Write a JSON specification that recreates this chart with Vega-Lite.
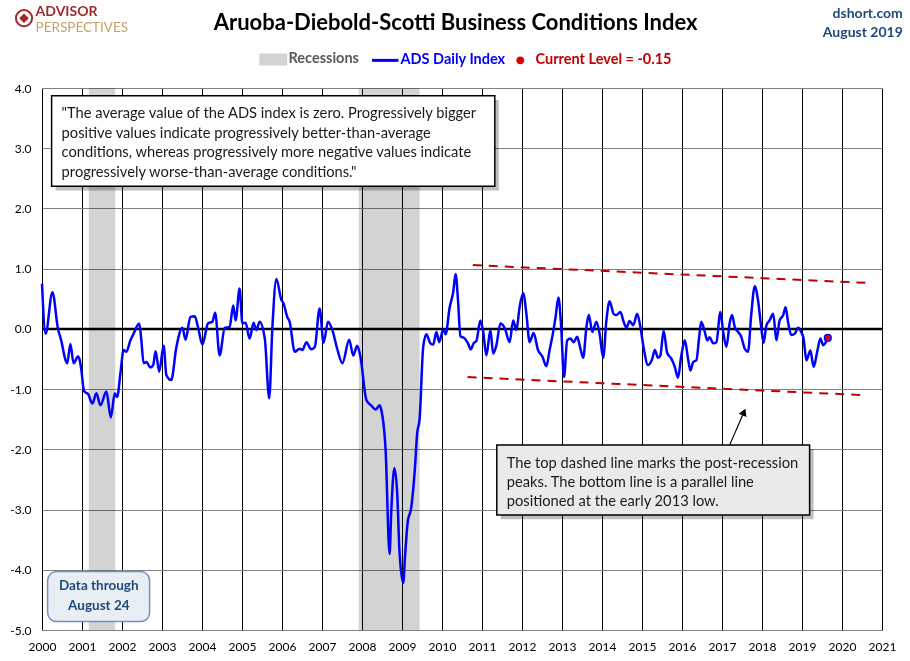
{
  "$schema": "https://vega.github.io/schema/vega-lite/v6.json",
  "width": 840,
  "height": 542,
  "autosize": {"type": "none"},
  "padding": {"left": 42, "top": 88, "right": 28, "bottom": 31},
  "background": "white",
  "config": {"view": {"stroke": null}, "font": "Lato"},
  "datasets": {
    "rec": [
      {"start": 2001.17, "end": 2001.83},
      {"start": 2007.92, "end": 2009.44}
    ],
    "trend": [
      {"x1": 2010.77, "y1": 1.06, "x2": 2020.74, "y2": 0.76},
      {"x1": 2010.64, "y1": -0.8, "x2": 2020.52, "y2": -1.1}
    ],
    "current": [{"year": 2019.645, "ads": -0.15}],
    "one": [{}],
    "ads": [
      {"year": 2000.0, "ads": 0.75}, {"year": 2000.09, "ads": -0.08}, {"year": 2000.26, "ads": 0.61},
      {"year": 2000.4, "ads": 0.0}, {"year": 2000.48, "ads": -0.19}, {"year": 2000.59, "ads": -0.52},
      {"year": 2000.63, "ads": -0.57}, {"year": 2000.71, "ads": -0.25}, {"year": 2000.79, "ads": -0.57},
      {"year": 2000.9, "ads": -0.46}, {"year": 2000.94, "ads": -0.51}, {"year": 2000.98, "ads": -0.66},
      {"year": 2001.05, "ads": -1.03}, {"year": 2001.1, "ads": -1.06}, {"year": 2001.15, "ads": -1.08},
      {"year": 2001.26, "ads": -1.24}, {"year": 2001.36, "ads": -1.07}, {"year": 2001.46, "ads": -1.27},
      {"year": 2001.61, "ads": -1.04}, {"year": 2001.72, "ads": -1.47}, {"year": 2001.82, "ads": -1.07},
      {"year": 2001.88, "ads": -1.13}, {"year": 2001.96, "ads": -0.74}, {"year": 2002.04, "ads": -0.35},
      {"year": 2002.11, "ads": -0.38}, {"year": 2002.21, "ads": -0.19}, {"year": 2002.29, "ads": -0.08},
      {"year": 2002.43, "ads": 0.09}, {"year": 2002.48, "ads": -0.16}, {"year": 2002.54, "ads": -0.57},
      {"year": 2002.61, "ads": -0.55}, {"year": 2002.71, "ads": -0.64}, {"year": 2002.78, "ads": -0.6},
      {"year": 2002.84, "ads": -0.37}, {"year": 2002.93, "ads": -0.71}, {"year": 2003.04, "ads": -0.28},
      {"year": 2003.11, "ads": -0.77}, {"year": 2003.23, "ads": -0.85}, {"year": 2003.36, "ads": -0.3},
      {"year": 2003.51, "ads": 0.02}, {"year": 2003.59, "ads": -0.18}, {"year": 2003.71, "ads": 0.2},
      {"year": 2003.82, "ads": 0.21}, {"year": 2003.9, "ads": 0.03}, {"year": 2004.01, "ads": -0.26},
      {"year": 2004.15, "ads": 0.09}, {"year": 2004.26, "ads": 0.12}, {"year": 2004.33, "ads": 0.27},
      {"year": 2004.44, "ads": -0.44}, {"year": 2004.57, "ads": 0.02}, {"year": 2004.69, "ads": 0.03},
      {"year": 2004.78, "ads": 0.39}, {"year": 2004.84, "ads": 0.14}, {"year": 2004.94, "ads": 0.67},
      {"year": 2005.01, "ads": 0.09}, {"year": 2005.09, "ads": 0.1}, {"year": 2005.19, "ads": -0.16},
      {"year": 2005.29, "ads": 0.1}, {"year": 2005.36, "ads": -0.02}, {"year": 2005.44, "ads": 0.12},
      {"year": 2005.57, "ads": -0.16}, {"year": 2005.68, "ads": -1.15}, {"year": 2005.76, "ads": 0.03},
      {"year": 2005.86, "ads": 0.83}, {"year": 2005.98, "ads": 0.49}, {"year": 2006.04, "ads": 0.42},
      {"year": 2006.13, "ads": 0.2}, {"year": 2006.19, "ads": 0.12}, {"year": 2006.32, "ads": -0.38},
      {"year": 2006.44, "ads": -0.33}, {"year": 2006.51, "ads": -0.35}, {"year": 2006.61, "ads": -0.22},
      {"year": 2006.73, "ads": -0.34}, {"year": 2006.82, "ads": -0.3}, {"year": 2006.94, "ads": 0.34},
      {"year": 2007.04, "ads": -0.23}, {"year": 2007.15, "ads": 0.12}, {"year": 2007.26, "ads": -0.02},
      {"year": 2007.38, "ads": -0.33}, {"year": 2007.51, "ads": -0.57}, {"year": 2007.68, "ads": -0.18},
      {"year": 2007.78, "ads": -0.44}, {"year": 2007.88, "ads": -0.28}, {"year": 2007.96, "ads": -0.46},
      {"year": 2008.11, "ads": -1.18}, {"year": 2008.23, "ads": -1.27}, {"year": 2008.34, "ads": -1.34},
      {"year": 2008.44, "ads": -1.27}, {"year": 2008.48, "ads": -1.34}, {"year": 2008.59, "ads": -2.01},
      {"year": 2008.69, "ads": -3.74}, {"year": 2008.73, "ads": -3.06}, {"year": 2008.81, "ads": -2.31},
      {"year": 2008.88, "ads": -2.73}, {"year": 2008.94, "ads": -3.73}, {"year": 2009.03, "ads": -4.22},
      {"year": 2009.08, "ads": -3.73}, {"year": 2009.15, "ads": -3.17}, {"year": 2009.22, "ads": -3.01},
      {"year": 2009.32, "ads": -2.34}, {"year": 2009.38, "ads": -1.73}, {"year": 2009.44, "ads": -1.5},
      {"year": 2009.53, "ads": -0.3}, {"year": 2009.61, "ads": -0.09}, {"year": 2009.71, "ads": -0.24},
      {"year": 2009.78, "ads": -0.26}, {"year": 2009.86, "ads": -0.05}, {"year": 2009.93, "ads": -0.22},
      {"year": 2010.03, "ads": -0.01}, {"year": 2010.09, "ads": -0.09}, {"year": 2010.19, "ads": 0.35},
      {"year": 2010.28, "ads": 0.61}, {"year": 2010.34, "ads": 0.91}, {"year": 2010.4, "ads": 0.48},
      {"year": 2010.46, "ads": -0.12}, {"year": 2010.57, "ads": -0.16}, {"year": 2010.65, "ads": -0.24},
      {"year": 2010.72, "ads": -0.34}, {"year": 2010.79, "ads": -0.24}, {"year": 2010.86, "ads": -0.2},
      {"year": 2010.96, "ads": 0.14}, {"year": 2011.03, "ads": -0.05}, {"year": 2011.11, "ads": -0.44},
      {"year": 2011.21, "ads": -0.02}, {"year": 2011.28, "ads": -0.41}, {"year": 2011.36, "ads": -0.27},
      {"year": 2011.46, "ads": 0.09}, {"year": 2011.57, "ads": 0.01}, {"year": 2011.69, "ads": -0.22},
      {"year": 2011.78, "ads": 0.14}, {"year": 2011.86, "ads": -0.02}, {"year": 2011.94, "ads": 0.36},
      {"year": 2012.03, "ads": 0.59}, {"year": 2012.11, "ads": 0.25}, {"year": 2012.19, "ads": -0.22},
      {"year": 2012.29, "ads": -0.07}, {"year": 2012.4, "ads": -0.35}, {"year": 2012.51, "ads": -0.46},
      {"year": 2012.61, "ads": -0.62}, {"year": 2012.69, "ads": -0.35}, {"year": 2012.78, "ads": -0.05},
      {"year": 2012.84, "ads": 0.2}, {"year": 2012.91, "ads": 0.52}, {"year": 2012.98, "ads": 0.03},
      {"year": 2013.05, "ads": -0.8}, {"year": 2013.13, "ads": -0.19}, {"year": 2013.21, "ads": -0.16},
      {"year": 2013.29, "ads": -0.22}, {"year": 2013.38, "ads": -0.13}, {"year": 2013.44, "ads": -0.27},
      {"year": 2013.53, "ads": -0.48}, {"year": 2013.61, "ads": 0.03}, {"year": 2013.67, "ads": 0.23},
      {"year": 2013.76, "ads": -0.05}, {"year": 2013.86, "ads": 0.12}, {"year": 2013.94, "ads": -0.08},
      {"year": 2014.03, "ads": -0.48}, {"year": 2014.11, "ads": 0.14}, {"year": 2014.19, "ads": 0.46},
      {"year": 2014.29, "ads": 0.25}, {"year": 2014.36, "ads": 0.23}, {"year": 2014.46, "ads": 0.28},
      {"year": 2014.54, "ads": 0.12}, {"year": 2014.61, "ads": 0.02}, {"year": 2014.69, "ads": 0.13},
      {"year": 2014.78, "ads": 0.06}, {"year": 2014.88, "ads": 0.25}, {"year": 2014.96, "ads": 0.03},
      {"year": 2015.04, "ads": -0.31}, {"year": 2015.15, "ads": -0.6}, {"year": 2015.26, "ads": -0.49},
      {"year": 2015.32, "ads": -0.35}, {"year": 2015.4, "ads": -0.48}, {"year": 2015.46, "ads": -0.44},
      {"year": 2015.54, "ads": -0.03}, {"year": 2015.63, "ads": -0.4}, {"year": 2015.73, "ads": -0.49},
      {"year": 2015.82, "ads": -0.63}, {"year": 2015.9, "ads": -0.81}, {"year": 2015.98, "ads": -0.46},
      {"year": 2016.07, "ads": -0.19}, {"year": 2016.15, "ads": -0.49}, {"year": 2016.21, "ads": -0.69},
      {"year": 2016.28, "ads": -0.55}, {"year": 2016.36, "ads": -0.52}, {"year": 2016.43, "ads": -0.13},
      {"year": 2016.48, "ads": 0.12}, {"year": 2016.57, "ads": -0.05}, {"year": 2016.63, "ads": -0.19},
      {"year": 2016.69, "ads": -0.14}, {"year": 2016.78, "ads": -0.24}, {"year": 2016.86, "ads": -0.22},
      {"year": 2016.96, "ads": 0.28}, {"year": 2017.03, "ads": -0.05}, {"year": 2017.11, "ads": -0.3},
      {"year": 2017.19, "ads": 0.09}, {"year": 2017.25, "ads": 0.23}, {"year": 2017.32, "ads": 0.03},
      {"year": 2017.4, "ads": -0.05}, {"year": 2017.48, "ads": -0.13}, {"year": 2017.57, "ads": -0.33},
      {"year": 2017.65, "ads": -0.38}, {"year": 2017.73, "ads": 0.23}, {"year": 2017.82, "ads": 0.71},
      {"year": 2017.9, "ads": 0.48}, {"year": 2017.98, "ads": 0.03}, {"year": 2018.04, "ads": -0.23},
      {"year": 2018.11, "ads": 0.06}, {"year": 2018.19, "ads": 0.14}, {"year": 2018.28, "ads": 0.25},
      {"year": 2018.36, "ads": -0.19}, {"year": 2018.44, "ads": 0.14}, {"year": 2018.53, "ads": 0.23},
      {"year": 2018.59, "ads": 0.36}, {"year": 2018.65, "ads": 0.12}, {"year": 2018.73, "ads": -0.1},
      {"year": 2018.82, "ads": -0.08}, {"year": 2018.9, "ads": 0.02}, {"year": 2018.98, "ads": -0.05},
      {"year": 2019.04, "ads": -0.16}, {"year": 2019.11, "ads": -0.52}, {"year": 2019.21, "ads": -0.36},
      {"year": 2019.29, "ads": -0.63}, {"year": 2019.38, "ads": -0.38}, {"year": 2019.46, "ads": -0.16},
      {"year": 2019.53, "ads": -0.27}, {"year": 2019.645, "ads": -0.15}
    ]
  },
  "layer": [
    {
      "data": {"name": "rec"},
      "mark": {"type": "rect", "opacity": 1, "blend": "multiply"},
      "encoding": {
        "x": {
          "field": "start",
          "type": "quantitative",
          "scale": {"domain": [2000, 2021], "nice": false, "zero": false},
          "axis": {
            "values": [2000, 2001, 2002, 2003, 2004, 2005, 2006, 2007, 2008, 2009, 2010, 2011, 2012, 2013, 2014, 2015, 2016, 2017, 2018, 2019, 2020, 2021],
            "tickCount": 40,
            "format": "d",
            "title": null,
            "grid": true,
            "gridColor": "#000000",
            "gridWidth": 1,
            "gridOpacity": 1,
            "domain": false,
            "ticks": false,
            "labelFont": "Lato",
            "labelFontSize": 12,
            "labelColor": "#000000",
            "labelPadding": 11,
            "labelFlush": false,
            "labelOverlap": false
          }
        },
        "x2": {"field": "end"},
        "color": {
          "datum": "Recessions",
          "type": "nominal",
          "scale": {
            "domain": ["Recessions", "ADS Daily Index", "Current Level =  -0.15"],
            "range": ["#D3D3D3", "#0000FF", "#E00000"]
          },
          "legend": {
            "title": null,
            "orient": "none",
            "direction": "horizontal",
            "legendX": 224,
            "legendY": -36,
            "padding": 0,
            "symbolSize": 700,
            "symbolOpacity": 1,
            "labelFont": "Lato",
            "labelFontSize": 14.5,
            "labelFontWeight": "bold",
            "labelOffset": 8,
            "columnPadding": 7,
            "labelLimit": 300,
            "encode": {
              "symbols": {
                "update": {
                  "shape": {"signal": "datum.label === 'Recessions' ? 'M-1,-0.4H1V0.4H-1Z' : datum.label === 'ADS Daily Index' ? 'stroke' : 'circle'"},
                  "size": {"signal": "datum.label === 'Recessions' || datum.label === 'ADS Daily Index' ? 700 : 40"},
                  "strokeWidth": {"signal": "datum.label === 'ADS Daily Index' ? 3 : 1.5"},
                  "opacity": {"value": 1}
                }
              },
              "labels": {
                "update": {
                  "fill": {"signal": "datum.label === 'Recessions' ? '#595959' : datum.label === 'ADS Daily Index' ? '#0000FF' : '#C00000'"}
                }
              }
            }
          }
        }
      }
    },
    {
      "data": {"name": "one"},
      "mark": {"type": "rule", "color": "#000000", "strokeWidth": 2.5},
      "encoding": {"y": {"datum": 0, "type": "quantitative"}}
    },
    {
      "data": {"name": "trend"},
      "mark": {"type": "rule", "color": "#C00000", "strokeWidth": 2, "strokeDash": [9, 7]},
      "encoding": {
        "x": {"field": "x1", "type": "quantitative"},
        "y": {"field": "y1", "type": "quantitative"},
        "x2": {"field": "x2"},
        "y2": {"field": "y2"}
      }
    },
    {
      "data": {"name": "ads"},
      "mark": {"type": "line", "strokeWidth": 2.5, "interpolate": "monotone"},
      "encoding": {
        "x": {
          "field": "year",
          "type": "quantitative",
          "axis": {
            "values": [2000, 2001, 2002, 2003, 2004, 2005, 2006, 2007, 2008, 2009, 2010, 2011, 2012, 2013, 2014, 2015, 2016, 2017, 2018, 2019, 2020, 2021],
            "tickCount": 40,
            "format": "d",
            "title": null,
            "grid": true,
            "gridColor": "#000000",
            "gridWidth": 1,
            "gridOpacity": 1,
            "domain": false,
            "ticks": false,
            "labelFont": "Lato",
            "labelFontSize": 12,
            "labelColor": "#000000",
            "labelPadding": 11,
            "labelFlush": false,
            "labelOverlap": false
          }
        },
        "y": {
          "field": "ads",
          "type": "quantitative",
          "scale": {"domain": [-5, 4], "nice": false, "zero": false},
          "axis": {
            "values": [-5, -4, -3, -2, -1, 0, 1, 2, 3, 4],
            "tickCount": 20,
            "format": ".1f",
            "labelExpr": "replace(datum.label, '\u2212', '-')",
            "title": null,
            "grid": true,
            "gridColor": "#808080",
            "gridWidth": 1,
            "gridOpacity": 1,
            "domain": false,
            "ticks": false,
            "labelFont": "Lato",
            "labelFontSize": 12,
            "labelColor": "#000000",
            "labelPadding": 11,
            "labelFlush": false,
            "labelOverlap": false
          }
        },
        "color": {"datum": "ADS Daily Index", "type": "nominal"}
      }
    },
    {
      "data": {"name": "current"},
      "mark": {"type": "point", "filled": true, "size": 45, "stroke": "#0000FF", "strokeWidth": 1.5, "opacity": 1},
      "encoding": {
        "x": {"field": "year", "type": "quantitative"},
        "y": {"field": "ads", "type": "quantitative"},
        "color": {"datum": "Current Level =  -0.15", "type": "nominal"}
      }
    },
    {
      "data": {"name": "one"},
      "mark": {"type": "rect", "color": "#000000", "opacity": 0.25},
      "encoding": {
        "x": {"datum": 2000.34, "type": "quantitative"},
        "x2": {"datum": 2011.42},
        "y": {"datum": 3.8, "type": "quantitative"},
        "y2": {"datum": 2.3}
      }
    },
    {
      "data": {"name": "one"},
      "mark": {"type": "rect", "fill": "#FFFFFF", "stroke": "#000000", "strokeWidth": 1.5},
      "encoding": {
        "x": {"datum": 2000.24, "type": "quantitative"},
        "x2": {"datum": 2011.32},
        "y": {"datum": 3.87, "type": "quantitative"},
        "y2": {"datum": 2.37}
      }
    },
    {
      "data": {"name": "one"},
      "mark": {
        "type": "text",
        "align": "left",
        "baseline": "top",
        "font": "Lato",
        "fontSize": 14.7,
        "lineHeight": 19.5,
        "color": "#1A1A1A",
        "text": [
          "\"The average value of the ADS index is zero.  Progressively bigger",
          "positive values indicate progressively better-than-average",
          "conditions, whereas progressively more negative values indicate",
          "progressively worse-than-average conditions.\""
        ]
      },
      "encoding": {
        "x": {"datum": 2000.49, "type": "quantitative"},
        "y": {"datum": 3.7, "type": "quantitative"}
      }
    },
    {
      "data": {"name": "one"},
      "mark": {"type": "rect", "color": "#000000", "opacity": 0.25},
      "encoding": {
        "x": {"datum": 2011.47, "type": "quantitative"},
        "x2": {"datum": 2019.29},
        "y": {"datum": -2.0, "type": "quantitative"},
        "y2": {"datum": -3.16}
      }
    },
    {
      "data": {"name": "one"},
      "mark": {"type": "rect", "fill": "#EAEAEA", "stroke": "#000000", "strokeWidth": 1.5},
      "encoding": {
        "x": {"datum": 2011.37, "type": "quantitative"},
        "x2": {"datum": 2019.19},
        "y": {"datum": -1.93, "type": "quantitative"},
        "y2": {"datum": -3.09}
      }
    },
    {
      "data": {"name": "one"},
      "mark": {
        "type": "text",
        "align": "left",
        "baseline": "top",
        "font": "Lato",
        "fontSize": 14.7,
        "lineHeight": 19,
        "color": "#1A1A1A",
        "text": [
          "The top dashed line marks the post-recession",
          "peaks. The bottom  line is a parallel line",
          "positioned at the early 2013 low."
        ]
      },
      "encoding": {
        "x": {"datum": 2011.62, "type": "quantitative"},
        "y": {"datum": -2.11, "type": "quantitative"}
      }
    },
    {
      "data": {"name": "one"},
      "mark": {"type": "rule", "color": "#000000", "strokeWidth": 1.2},
      "encoding": {
        "x": {"datum": 2017.19, "type": "quantitative"},
        "y": {"datum": -1.93, "type": "quantitative"},
        "x2": {"datum": 2017.55},
        "y2": {"datum": -1.38}
      }
    },
    {
      "data": {"name": "one"},
      "mark": {"type": "point", "shape": "triangle-up", "filled": true, "color": "#000000", "size": 70, "angle": 23, "opacity": 1},
      "encoding": {
        "x": {"datum": 2017.55, "type": "quantitative"},
        "y": {"datum": -1.38, "type": "quantitative"}
      }
    },
    {
      "data": {"name": "one"},
      "mark": {"type": "rect", "fill": "#E9EDF4", "stroke": "#7391C4", "strokeWidth": 1.5, "cornerRadius": 9},
      "encoding": {
        "x": {"datum": 2000.14, "type": "quantitative"},
        "x2": {"datum": 2002.69},
        "y": {"datum": -4.03, "type": "quantitative"},
        "y2": {"datum": -4.86}
      }
    },
    {
      "data": {"name": "one"},
      "mark": {
        "type": "text",
        "align": "center",
        "baseline": "top",
        "font": "Lato",
        "fontSize": 13.5,
        "fontWeight": "bold",
        "lineHeight": 20,
        "color": "#1F497D",
        "text": ["Data through", "August 24"]
      },
      "encoding": {
        "x": {"datum": 2001.42, "type": "quantitative"},
        "y": {"datum": -4.15, "type": "quantitative"}
      }
    },
    {
      "data": {"name": "one"},
      "mark": {
        "type": "text",
        "align": "center",
        "baseline": "middle",
        "font": "Lato",
        "fontSize": 22,
        "fontWeight": "bold",
        "color": "#000000",
        "text": "Aruoba-Diebold-Scotti Business Conditions Index"
      },
      "encoding": {
        "x": {"datum": 2010.34, "type": "quantitative"},
        "y": {"datum": 5.08, "type": "quantitative"}
      }
    },
    {
      "data": {"name": "one"},
      "mark": {
        "type": "text",
        "align": "right",
        "baseline": "middle",
        "font": "Lato",
        "fontSize": 14,
        "fontWeight": "bold",
        "lineHeight": 19,
        "color": "#1F497D",
        "text": ["dshort.com", "August 2019"]
      },
      "encoding": {
        "x": {"datum": 2021.52, "type": "quantitative"},
        "y": {"datum": 5.23, "type": "quantitative"}
      }
    },
    {
      "data": {"name": "one"},
      "mark": {"type": "point", "shape": "circle", "filled": false, "color": "#9E2A2B", "strokeWidth": 2, "size": 260, "opacity": 1},
      "encoding": {
        "x": {"datum": 1999.55, "type": "quantitative"},
        "y": {"datum": 5.16, "type": "quantitative"}
      }
    },
    {
      "data": {"name": "one"},
      "mark": {"type": "point", "shape": "diamond", "filled": true, "color": "#9E2A2B", "size": 90, "opacity": 1},
      "encoding": {
        "x": {"datum": 1999.55, "type": "quantitative"},
        "y": {"datum": 5.16, "type": "quantitative"}
      }
    },
    {
      "data": {"name": "one"},
      "mark": {"type": "text", "align": "left", "baseline": "middle", "font": "Lato", "fontSize": 14, "fontWeight": "bold", "color": "#9E2A2B", "text": "ADVISOR"},
      "encoding": {
        "x": {"datum": 1999.84, "type": "quantitative"},
        "y": {"datum": 5.27, "type": "quantitative"}
      }
    },
    {
      "data": {"name": "one"},
      "mark": {"type": "text", "align": "left", "baseline": "middle", "font": "Lato", "fontSize": 13.5, "color": "#C8A165", "text": "PERSPECTIVES"},
      "encoding": {
        "x": {"datum": 1999.84, "type": "quantitative"},
        "y": {"datum": 4.99, "type": "quantitative"}
      }
    }
  ]
}
